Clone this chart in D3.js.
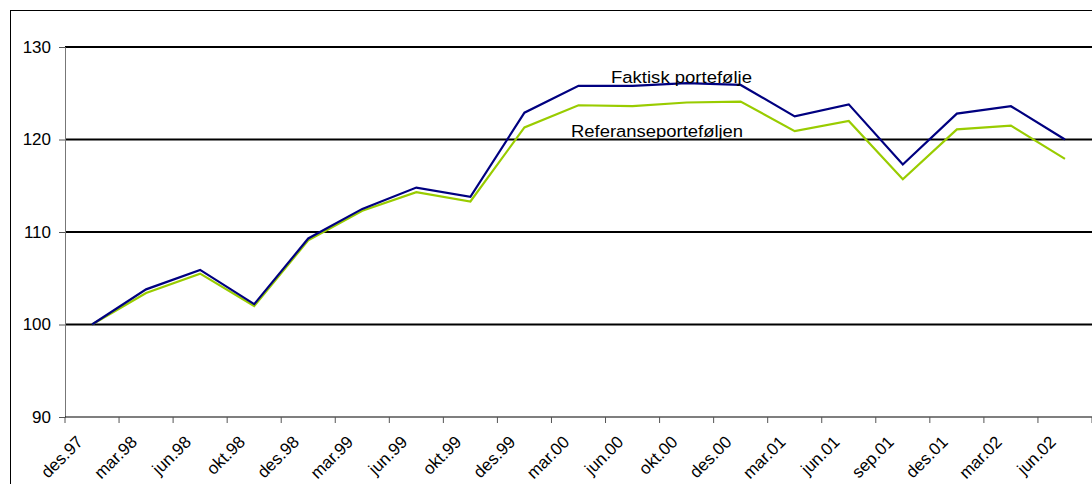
<!DOCTYPE html>
<html>
<head>
<meta charset="utf-8">
<script src="https://cdn.jsdelivr.net/npm/d3@7"></script>
<style>
  html, body { margin: 0; padding: 0; background: #fff; }
  svg { display: block; font-family: "Liberation Sans", Arial, sans-serif; }
</style>
</head>
<body>
<svg id="chart" width="1092" height="484"></svg>
<script>
// Quarterly index, des.97 = 100
const categories = ["des.97","mar.98","jun.98","okt.98","des.98","mar.99","jun.99","okt.99","des.99",
  "mar.00","jun.00","okt.00","des.00","mar.01","jun.01","sep.01","des.01","mar.02","jun.02"];
const faktisk = [100, 103.8, 105.9, 102.2, 109.3, 112.5, 114.8, 113.8, 122.9,
  125.8, 125.8, 126.1, 125.9, 122.5, 123.8, 117.3, 122.8, 123.6, 120.0];
const referanse = [100, 103.4, 105.5, 102.0, 109.1, 112.3, 114.3, 113.3, 121.3,
  123.7, 123.6, 124.0, 124.1, 120.9, 122.0, 115.7, 121.1, 121.5, 117.9];
const yTicks = [90, 100, 110, 120, 130];
const seriesNames = ["Faktisk portefølje", "Referanseporteføljen"];

const svg = d3.select("#chart");
const m = { left: 65, top: 47, right: 1092, bottom: 417 };
const fontSize = 17;

const x = d3.scaleBand().domain(categories).range([m.left, m.right]);
const y = d3.scaleLinear().domain([90, 130]).range([m.bottom, m.top]);

// outer frame
svg.append("rect").attr("x", 10.5).attr("y", 10.5)
  .attr("width", 1200).attr("height", 600)
  .attr("fill", "none").attr("stroke", "#000").attr("stroke-width", 1);

// horizontal gridlines
svg.append("g").selectAll("line").data(yTicks.filter(d => d > 90)).join("line")
  .attr("x1", m.left).attr("x2", m.right)
  .attr("y1", d => y(d)).attr("y2", d => y(d))
  .attr("stroke", "#000").attr("stroke-width", 2);

// y axis
const yAxis = svg.append("g").attr("transform", `translate(${m.left},0)`)
  .call(d3.axisLeft(y).tickValues(yTicks).tickSize(6).tickPadding(8));
yAxis.select(".domain").attr("stroke", "#777");
yAxis.selectAll(".tick line").attr("stroke", "#555");
yAxis.selectAll(".tick text").attr("font-size", fontSize).attr("fill", "#000")
  .attr("font-family", "Liberation Sans, Arial, sans-serif");

// x axis with ticks on category boundaries
const xAxisG = svg.append("g").attr("transform", `translate(0,${m.bottom})`);
xAxisG.append("line").attr("x1", m.left).attr("x2", m.right)
  .attr("stroke", "#000").attr("stroke-width", 1.2);
const bounds = categories.map(c => x(c)).concat([x(categories[categories.length - 1]) + x.bandwidth()]);
xAxisG.selectAll("line.tk").data(bounds).join("line").attr("class", "tk")
  .attr("x1", d => d).attr("x2", d => d).attr("y1", 0).attr("y2", 6)
  .attr("stroke", "#555");
// rotated category labels, ending just left of each category centre
xAxisG.selectAll("text").data(categories).join("text")
  .attr("transform", d => `translate(${x(d) + x.bandwidth() / 2 - 8},${26}) rotate(-45)`)
  .attr("text-anchor", "end")
  .attr("font-size", fontSize).attr("fill", "#000").text(d => d);

// series lines
const line = d3.line().x((d, i) => x(categories[i]) + x.bandwidth() / 2).y(d => y(d));
svg.append("path").datum(referanse).attr("d", line)
  .attr("fill", "none").attr("stroke", "#99cc00").attr("stroke-width", 2.2);
svg.append("path").datum(faktisk).attr("d", line)
  .attr("fill", "none").attr("stroke", "#000080").attr("stroke-width", 2.2);

// series labels (slightly wide type)
svg.append("text").attr("transform", "translate(611,83) scale(1.09,1)")
  .attr("font-size", fontSize).attr("fill", "#000").text(seriesNames[0]);
svg.append("text").attr("transform", "translate(571,137) scale(1.085,1)")
  .attr("font-size", fontSize).attr("fill", "#000").text(seriesNames[1]);
</script>
</body>
</html>
